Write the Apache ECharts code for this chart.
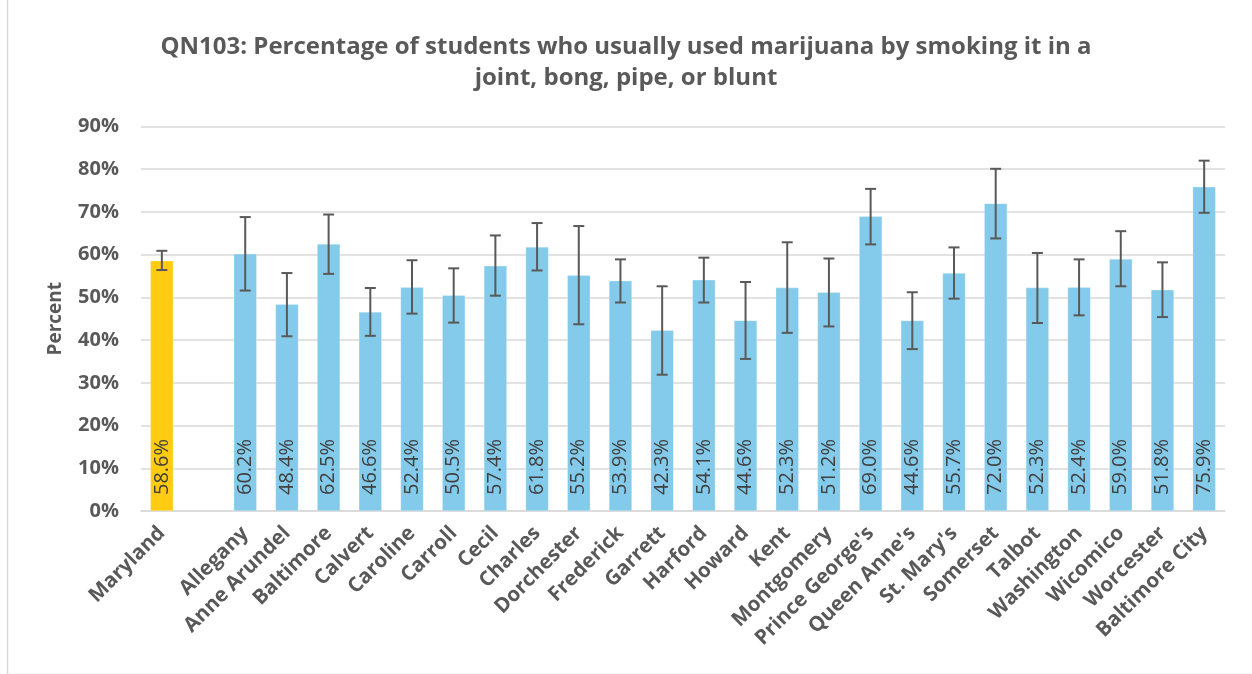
<!DOCTYPE html>
<html>
<head>
<meta charset="utf-8">
<script src="https://cdn.jsdelivr.net/npm/echarts@6/dist/echarts.min.js"></script>
<style>
html,body{margin:0;padding:0;background:#fff;}
#chart{width:1252px;height:674px;}
</style>
</head>
<body>
<div id="chart"></div>
<script>
const titleText = 'QN103: Percentage of students who usually used marijuana by smoking it in a\njoint, bong, pipe, or blunt';
const categories = ['Maryland','','Allegany','Anne Arundel','Baltimore','Calvert','Caroline','Carroll','Cecil','Charles','Dorchester','Frederick','Garrett','Harford','Howard','Kent','Montgomery',"Prince George's","Queen Anne's","St. Mary's",'Somerset','Talbot','Washington','Wicomico','Worcester','Baltimore City'];
const values = [58.6,null,60.2,48.4,62.5,46.6,52.4,50.5,57.4,61.8,55.2,53.9,42.3,54.1,44.6,52.3,51.2,69.0,44.6,55.7,72.0,52.3,52.4,59.0,51.8,75.9];
const lower = [56.4,null,51.6,40.9,55.5,41.0,46.2,44.1,50.4,56.3,43.7,48.8,31.9,48.8,35.6,41.7,43.2,62.4,37.9,49.7,63.8,44.0,45.8,52.6,45.4,69.8];
const upper = [60.9,null,68.8,55.7,69.4,52.2,58.7,56.8,64.5,67.4,66.7,58.9,52.6,59.3,53.6,62.9,59.1,75.4,51.2,61.7,80.1,60.4,58.9,65.5,58.2,82.0];
const yTicks = [0,10,20,30,40,50,60,70,80,90];

const FONT = '"Open Sans", sans-serif';
const TXT = '#595959';
const chart = echarts.init(document.getElementById('chart'), null, {renderer:'canvas'});

const barData = values.map((v,i)=>({
  value: v,
  itemStyle: { color: i===0 ? '#FFCC12' : '#84CAEA' }
}));
const errData = values.map((v,i)=> v==null ? [i,null,null] : [i, lower[i], upper[i]]);

chart.setOption({
  animation:false,
  backgroundColor:'#fff',
  graphic:[{
    type:'rect', left:5, top:-10,
    shape:{x:0,y:0,width:1300,height:682},
    style:{fill:'none', stroke:'#d9d9d9', lineWidth:1.5},
    silent:true
  }],
  title:{
    text:titleText, left:'center', top:27,
    textStyle:{fontFamily:FONT, fontWeight:'bold', fontSize:24, color:TXT, lineHeight:31}
  },
  grid:{left:141, right:27, top:126.5, bottom:163},
  xAxis:{
    type:'category', data:categories,
    axisLine:{lineStyle:{color:'#d9d9d9', width:1.5}},
    axisTick:{show:false},
    axisLabel:{rotate:45, interval:0, margin:19, fontFamily:FONT, fontWeight:'bold', fontSize:20.5, color:TXT}
  },
  yAxis:{
    type:'value', min:0, max:90, interval:10,
    name:'Percent', nameLocation:'middle', nameGap:76, nameRotate:90,
    nameTextStyle:{fontFamily:FONT, fontWeight:'bold', fontSize:19, color:TXT},
    axisLine:{show:false}, axisTick:{show:false},
    splitLine:{lineStyle:{color:'#d9d9d9', width:1.5}},
    axisLabel:{margin:22, fontFamily:FONT, fontWeight:'bold', fontSize:20, color:TXT,
      formatter:v=> yTicks.includes(v) ? v+'%' : ''}
  },
  series:[{
    type:'bar', data:barData, barWidth:23,
    itemStyle:{borderColor:'rgba(255,255,255,0.5)', borderWidth:0.5},
    label:{show:true, position:'insideBottom', rotate:90, align:'left', verticalAlign:'middle', distance:16,
      fontFamily:FONT, fontSize:20, color:'#404040',
      formatter:p=> p.value==null ? '' : p.value.toFixed(1)+'%'}
  },{
    type:'custom', data:errData, z:5,
    renderItem:(params, api)=>{
      const lo = api.value(1), hi = api.value(2);
      if (lo==null || isNaN(lo)) return null;
      const idx = api.value(0);
      const p1 = api.coord([idx, lo]);
      const p2 = api.coord([idx, hi]);
      const cap = 5.5;
      const st = {stroke:'#595959', lineWidth:2};
      return {type:'group', children:[
        {type:'line', shape:{x1:p1[0],y1:p1[1],x2:p2[0],y2:p2[1]}, style:st},
        {type:'line', shape:{x1:p1[0]-cap,y1:p1[1],x2:p1[0]+cap,y2:p1[1]}, style:st},
        {type:'line', shape:{x1:p2[0]-cap,y1:p2[1],x2:p2[0]+cap,y2:p2[1]}, style:st}
      ]};
    },
    encode:{x:0, y:[1,2]}
  }]
});
</script>
</body>
</html>
